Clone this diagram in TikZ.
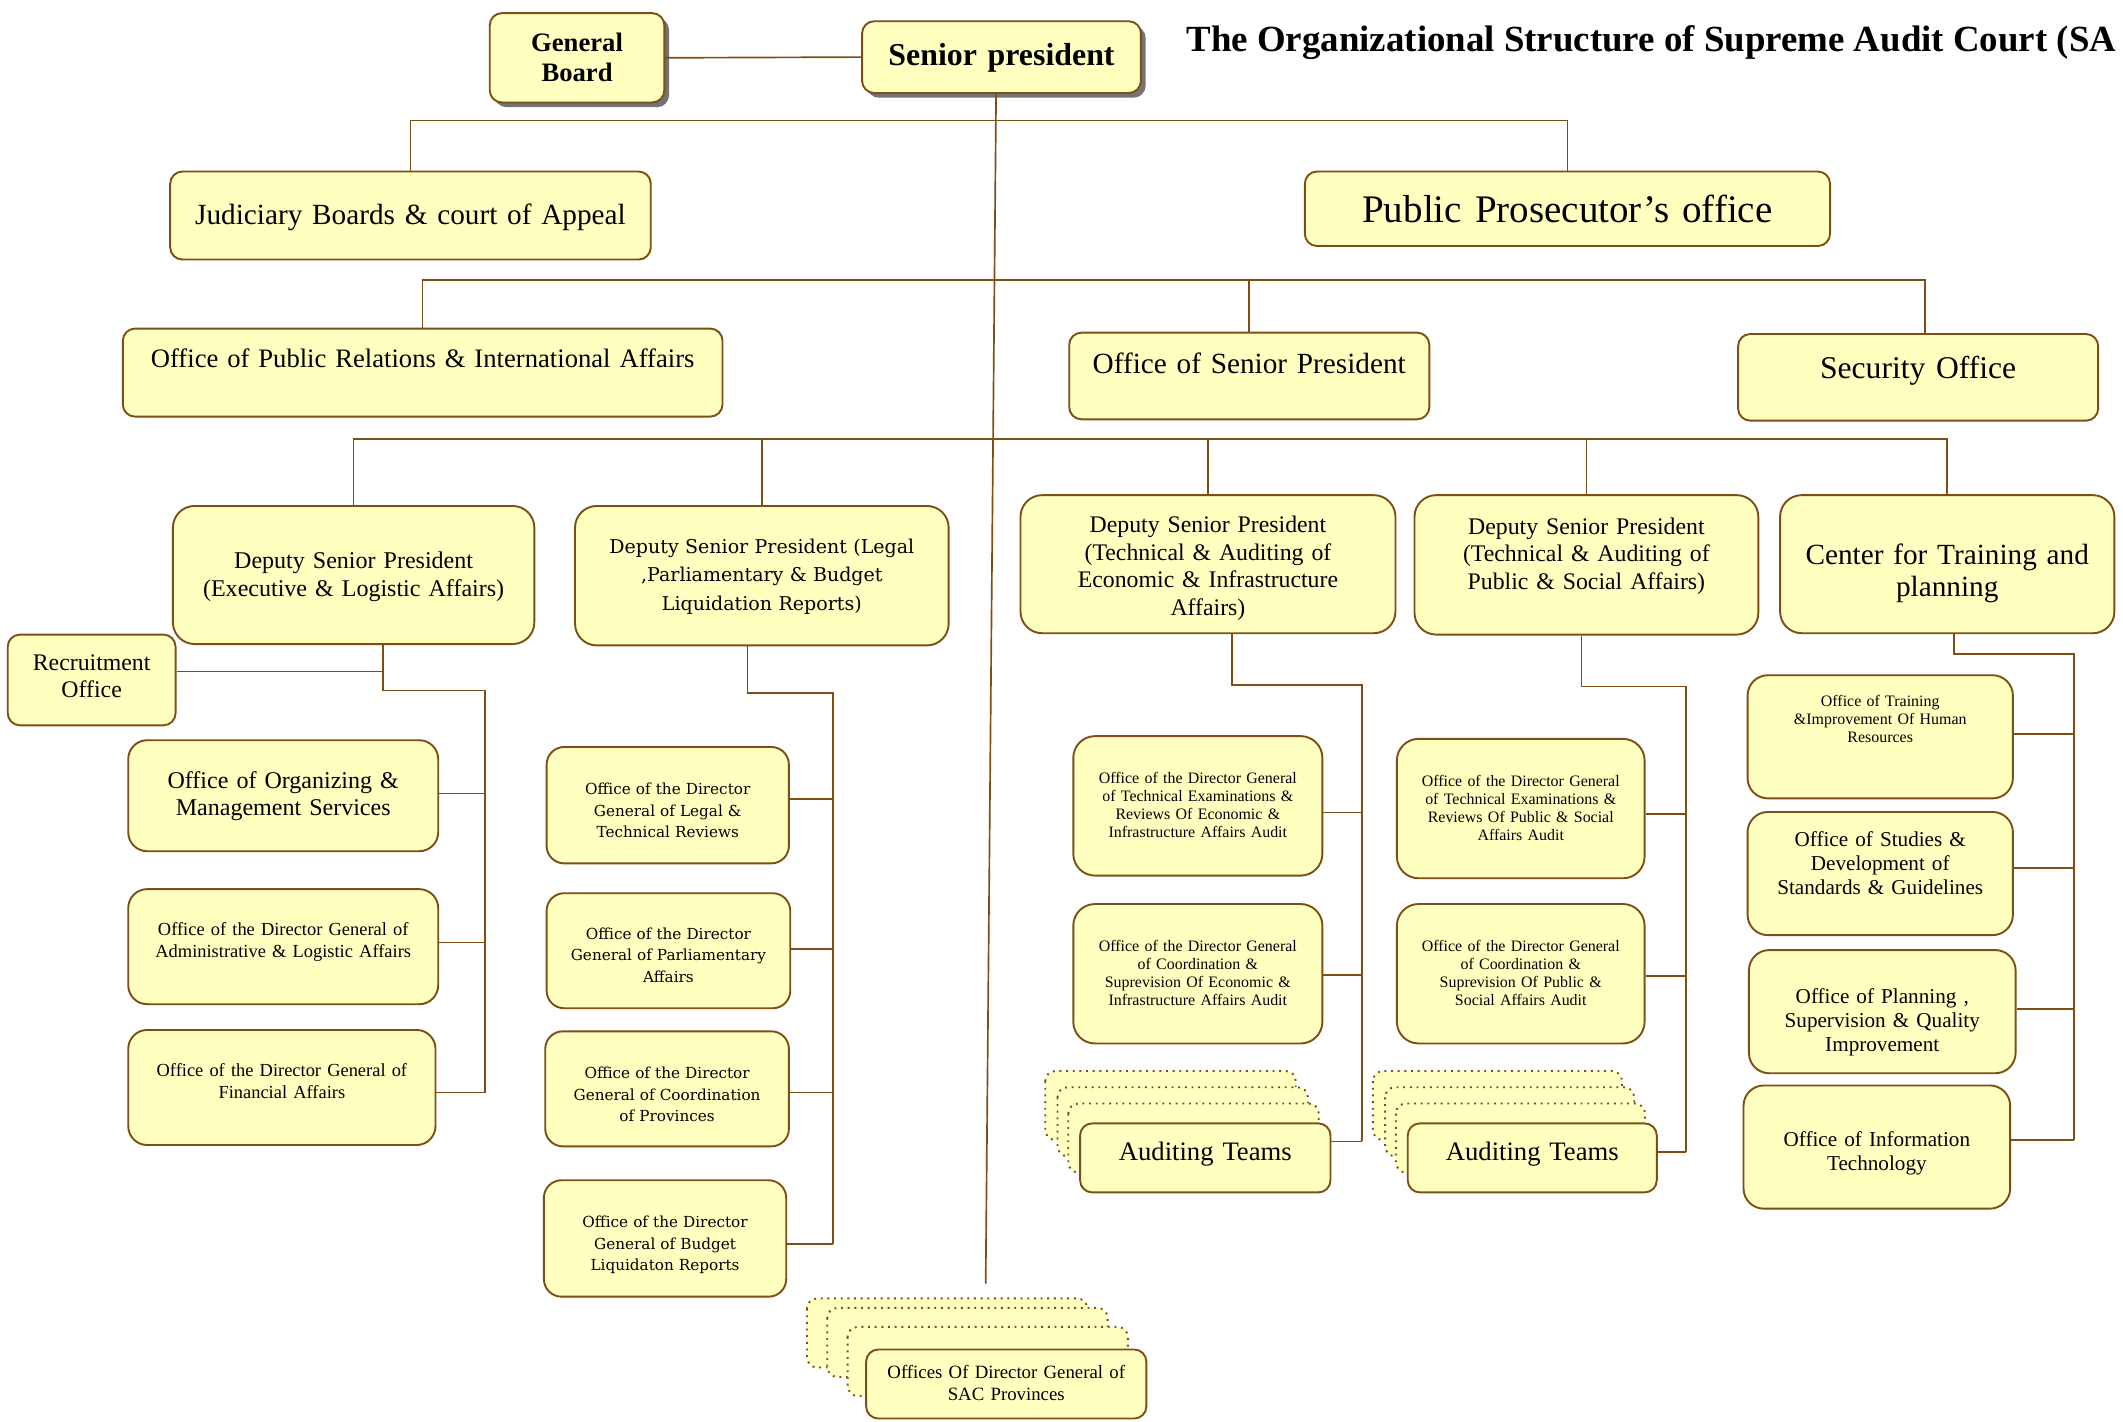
\documentclass[tikz,border=0pt]{standalone}
\usepackage{fontspec}
\setmainfont{Liberation Serif}
\newfontfamily\widefont{DejaVu Serif}
\usetikzlibrary{shadows}
\definecolor{boxfill}{RGB}{255,255,192}
\definecolor{brd}{RGB}{125,78,22}
\newcommand{\fsz}[2]{\fontsize{#1}{#2}\selectfont}

\begin{document}
\begin{tikzpicture}[x=0.02cm, y=-0.02cm,
  orgbox/.style={draw=brd, line width=0.8pt, fill=boxfill, rounded corners=0.18cm,
    anchor=north west, inner sep=0pt, align=center},
  dims/.style n args={3}{text width=#1cm, text height=#2cm, text depth=#3cm},
  ghostbox/.style={draw=brd, dotted, line width=0.8pt, fill=boxfill, rounded corners=0.15cm},
  wire/.style={draw=brd, line width=0.7pt},
  boxshadow/.style={drop shadow={shadow xshift=0.07cm, shadow yshift=-0.07cm, fill=black!55, opacity=1}}]
  \useasboundingbox (0,0) rectangle (1568,1050);

  \node[anchor=base west, inner sep=0pt, font=\bfseries\fsz{15.5}{18}] (title) at (876,38)
    {The Organizational Structure of Supreme Audit Court (SA};

  \node[orgbox, boxshadow, dims={2.58}{0.57}{0.75}, font=\bfseries\fsz{11.2}{12.5}] (GB) at (361,9) {General\\Board};
  \node[orgbox, boxshadow, dims={4.12}{0.656}{0.404}, font=\bfseries\fsz{13.4}{16}] (SP) at (636,15) {Senior president};

  \node[orgbox, dims={7.10}{0.78}{0.52}, font=\fsz{12.3}{14}] (JB) at (125,126) {Judiciary Boards \& court of Appeal};
  \node[orgbox, dims={7.76}{0.75}{0.35}, font=\fsz{16.4}{18}] (PP) at (963,126) {Public Prosecutor’s office};

  \node[orgbox, dims={8.86}{0.57}{0.73}, font=\fsz{11.2}{13}] (PR) at (90,242) {Office of Public Relations \& International Affairs};
  \node[orgbox, dims={5.32}{0.60}{0.68}, font=\fsz{12.3}{14}] (OS) at (789,245) {Office of Senior President};
  \node[orgbox, dims={5.32}{0.654}{0.626}, font=\fsz{13.3}{15}] (SO) at (1283,246) {Security Office};

  \node[orgbox, rounded corners=0.32cm, dims={5.34}{0.918}{1.122}, font=\fsz{10.1}{12}] (DE) at (127,373)
    {Deputy Senior President\\(Executive \& Logistic Affairs)};
  \node[orgbox, rounded corners=0.32cm, dims={5.52}{0.70}{1.36}, font=\widefont\fsz{8}{12}] (DL) at (424,373)
    {Deputy Senior President (Legal\\,Parliamentary \& Budget\\Liquidation Reports)};
  \node[orgbox, rounded corners=0.32cm, dims={5.54}{0.556}{1.484}, font=\fsz{10}{11.6}] (DEc) at (753,365)
    {Deputy Senior President\\(Technical \& Auditing of\\Economic \& Infrastructure\\Affairs)};
  \node[orgbox, rounded corners=0.32cm, dims={5.08}{0.576}{1.484}, font=\fsz{10}{11.6}] (DP) at (1044,365)
    {Deputy Senior President\\(Technical \& Auditing of\\Public \& Social Affairs)};
  \node[orgbox, rounded corners=0.32cm, dims={4.94}{1.02}{1.02}, font=\fsz{12.3}{13.7}] (CT) at (1314,365)
    {Center for Training and\\planning};

  \node[orgbox, dims={2.48}{0.536}{0.804}, font=\fsz{10}{11.4}] (RO) at (5,468) {Recruitment\\Office};
  \node[orgbox, rounded corners=0.28cm, dims={4.58}{0.718}{0.922}, font=\fsz{10.1}{11.4}] (OM) at (94,546)
    {Office of Organizing \&\\Management Services};
  \node[orgbox, rounded corners=0.28cm, dims={4.58}{0.69}{1.01}, font=\fsz{7.75}{9.1}] (AD) at (94,656)
    {Office of the Director General of\\Administrative \& Logistic Affairs};
  \node[orgbox, rounded corners=0.28cm, dims={4.54}{0.69}{1.01}, font=\fsz{7.75}{9.1}] (FI) at (94,760)
    {Office of the Director General of\\Financial Affairs};

  \node[orgbox, rounded corners=0.26cm, dims={3.58}{0.70}{1.02}, font=\widefont\fsz{6.4}{9.1}] (L1) at (403,551)
    {Office of the Director\\General of Legal \&\\Technical Reviews};
  \node[orgbox, rounded corners=0.26cm, dims={3.60}{0.68}{1.02}, font=\widefont\fsz{6.4}{9.1}] (L2) at (403,659)
    {Office of the Director\\General of Parliamentary\\Affairs};
  \node[orgbox, rounded corners=0.26cm, dims={3.60}{0.70}{1.00}, font=\widefont\fsz{6.4}{9.1}] (L3) at (402,761)
    {Office of the Director\\General of Coordination\\of Provinces};
  \node[orgbox, rounded corners=0.26cm, dims={3.58}{0.70}{1.02}, font=\widefont\fsz{6.4}{9.1}] (L4) at (401,871)
    {Office of the Director\\General of Budget\\Liquidaton Reports};

  \node[orgbox, rounded corners=0.32cm, dims={3.68}{0.698}{1.362}, font=\fsz{6.7}{7.6}] (A1) at (792,543)
    {Office of the Director General\\of Technical Examinations \&\\Reviews Of Economic \&\\Infrastructure Affairs Audit};
  \node[orgbox, rounded corners=0.32cm, dims={3.68}{0.698}{1.362}, font=\fsz{6.7}{7.6}] (A2) at (792,667)
    {Office of the Director General\\of Coordination \&\\Suprevision Of Economic \&\\Infrastructure Affairs Audit};
  \node[orgbox, rounded corners=0.32cm, dims={3.66}{0.698}{1.362}, font=\fsz{6.7}{7.6}] (B1) at (1031,545)
    {Office of the Director General\\of Technical Examinations \&\\Reviews Of Public \& Social\\Affairs Audit};
  \node[orgbox, rounded corners=0.32cm, dims={3.66}{0.698}{1.362}, font=\fsz{6.7}{7.6}] (B2) at (1031,667)
    {Office of the Director General\\of Coordination \&\\Suprevision Of Public \&\\Social Affairs Audit};

  \foreach \x/\y in {772/791, 781/803, 789/815}
    \draw[ghostbox] (\x,\y) rectangle ++(185,51);
  \node[orgbox, dims={3.70}{0.55}{0.47}, font=\fsz{11.2}{13}] (AE) at (797,829) {Auditing Teams};
  \foreach \x/\y in {1014/791, 1023/803, 1031/815}
    \draw[ghostbox] (\x,\y) rectangle ++(184,51);
  \node[orgbox, dims={3.68}{0.55}{0.47}, font=\fsz{11.2}{13}] (AP) at (1039,829) {Auditing Teams};

  \node[orgbox, rounded corners=0.3cm, dims={3.92}{0.458}{1.362}, font=\fsz{6.7}{7.7}] (T1) at (1290,498)
    {Office of Training\\\&Improvement Of Human\\Resources};
  \node[orgbox, rounded corners=0.3cm, dims={3.92}{0.504}{1.316}, font=\fsz{8.9}{10.2}] (T2) at (1290,599)
    {Office of Studies \&\\Development of\\Standards \& Guidelines};
  \node[orgbox, rounded corners=0.3cm, dims={3.94}{0.784}{1.036}, font=\fsz{8.9}{10.2}] (T3) at (1291,701)
    {Office of Planning ,\\Supervision \& Quality\\Improvement};
  \node[orgbox, rounded corners=0.3cm, dims={3.94}{0.904}{0.916}, font=\fsz{8.9}{10.2}] (T4) at (1287,801)
    {Office of Information\\Technology};

  \foreach \x/\y in {596/959, 611/966, 626/980}
    \draw[ghostbox] (\x,\y) rectangle ++(207,51);
  \node[orgbox, dims={4.14}{0.432}{0.588}, font=\fsz{7.9}{9.1}] (PV) at (639,996)
    {Offices Of Director General of\\SAC Provinces};

  \coordinate (TE) at (728,948);
  \draw[wire] (GB.east) -- (SP.west);
  \draw[wire] ([xshift=-0.08cm]SP.south) -- (TE);
  \draw[wire] (JB.north) -- (JB.north |- 0,89) -| (PP.north);
  \draw[wire] (PR.north) -- (PR.north |- 0,207) -| ([xshift=0.1cm]SO.north);
  \draw[wire] (OS.north) -- (OS.north |- 0,207);
  \draw[wire] (DE.north) -- (DE.north |- 0,324) -| (CT.north);
  \foreach \n in {DL, DEc, DP}
    \draw[wire] (\n.north) -- (\n.north |- 0,324);

  \draw[wire] (DE.south -| 283,0) -- (283,510) -- (358,510) -- (358,807);
  \draw[wire] (RO.east |- 0,496) -- (283,496);
  \foreach \n/\y in {OM/586, AD/696, FI/807}
    \draw[wire] (\n.east |- 0,\y) -- (358,\y);

  \draw[wire] (DL.south -| 552,0) -- (552,512) -- (615,512) -- (615,919);
  \foreach \n/\y in {L1/590, L2/701, L3/807, L4/919}
    \draw[wire] (\n.east |- 0,\y) -- (615,\y);

  \draw[wire] (DEc.south -| 910,0) -- (910,506) -- (1006,506) -- (1006,843);
  \foreach \n/\y in {A1/600, A2/720, AE/843}
    \draw[wire] (\n.east |- 0,\y) -- (1006,\y);

  \draw[wire] (DP.south -| 1168,0) -- (1168,507) -- (1245,507) -- (1245,851);
  \foreach \n/\y in {B1/601, B2/721, AP/851}
    \draw[wire] (\n.east |- 0,\y) -- (1245,\y);

  \draw[wire] (CT.south -| 1443,0) -- (1443,483) -- (1532,483) -- (1532,842);
  \foreach \n/\y in {T1/542, T2/641, T3/745, T4/842}
    \draw[wire] (\n.east |- 0,\y) -- (1532,\y);
\end{tikzpicture}
\end{document}
